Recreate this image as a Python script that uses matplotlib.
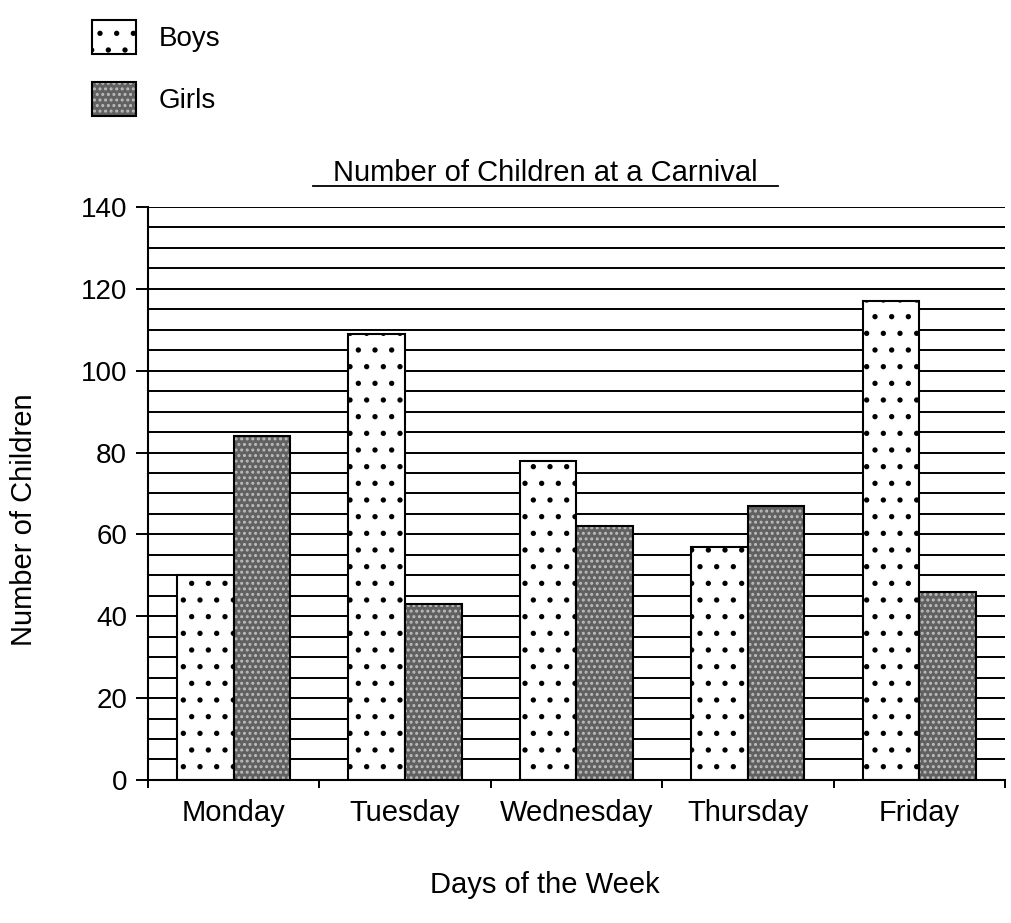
import numpy as np
import matplotlib.pyplot as plt
from matplotlib.patches import Patch

days = ["Monday", "Tuesday", "Wednesday", "Thursday", "Friday"]
boys = [50, 109, 78, 57, 117]
girls = [84, 43, 62, 67, 46]
y_ticks = [0, 20, 40, 60, 80, 100, 120, 140]
grid_step = 5

plt.rcParams['font.family'] = ['Liberation Sans', 'DejaVu Sans']
plt.rcParams['hatch.linewidth'] = 1.4

fig = plt.figure(figsize=(10.12, 9.23), dpi=100)
ax = fig.add_axes([0.1462, 0.155, 0.8468, 0.6207])

x = np.arange(len(days))
w = 0.33
girl_col = '#616161'

for v in np.arange(grid_step, 141, grid_step):
    ax.axhline(v, color='black', lw=1.4, zorder=1)

ax.bar(x - w / 2, boys, w, facecolor='white', edgecolor='black',
       hatch='.', lw=1.5, zorder=2)
ax.bar(x + w / 2, girls, w, facecolor=girl_col, edgecolor='#bdbdbd',
       hatch='...', lw=0, zorder=2)
ax.bar(x + w / 2, girls, w, fill=False, edgecolor='black', lw=1.5, zorder=3)

ax.set_xlim(-0.5, len(days) - 0.5)
ax.set_ylim(0, 140)
ax.set_yticks(y_ticks)
ax.tick_params(axis='y', labelsize=20, length=9, width=1.4, pad=6)
ax.set_xticks(np.arange(len(days) + 1) - 0.5)
ax.set_xticklabels([])
ax.tick_params(axis='x', which='major', length=6, width=1.4, direction='out')
ax.set_xticks(x, minor=True)
ax.set_xticklabels(days, minor=True, fontsize=21)
ax.tick_params(axis='x', which='minor', length=0, pad=14)

for s in ['top', 'right']:
    ax.spines[s].set_visible(False)
for s in ['left', 'bottom']:
    ax.spines[s].set_linewidth(1.5)

fig.text(0.538, 0.041, 'Days of the Week', fontsize=21, ha='center', va='center')
fig.text(0.024, 0.437, 'Number of Children', fontsize=21, ha='center',
         va='center', rotation=90)
fig.text(0.539, 0.813, 'Number of Children at a Carnival', fontsize=21,
         ha='center', va='center')
fig.add_artist(plt.Line2D([0.309, 0.769], [0.798, 0.798], color='black', lw=1.3))

boys_h = Patch(facecolor='white', edgecolor='black', hatch='.', lw=1.5)
girls_h = (Patch(facecolor=girl_col, edgecolor='#bdbdbd', hatch='...', lw=0),
           Patch(fill=False, edgecolor='black', lw=1.5))
fig.legend([boys_h, girls_h], ['Boys', 'Girls'], loc='upper left',
           bbox_to_anchor=(0.066, 1.005), frameon=False, fontsize=20,
           handlelength=1.6, handleheight=1.5, labelspacing=1.0,
           handletextpad=0.8)

fig.savefig('out.png', dpi=100)
